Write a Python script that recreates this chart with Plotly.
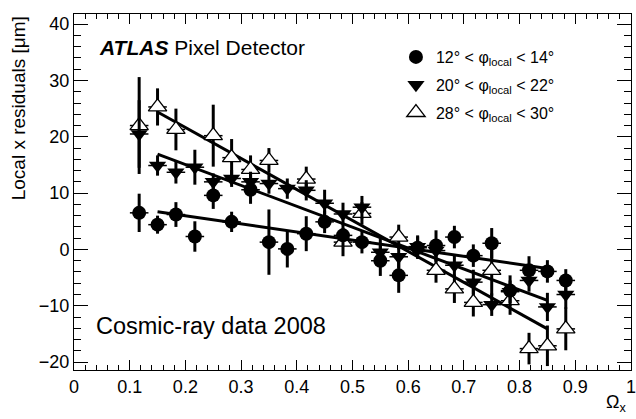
import plotly.graph_objects as go

# ---------------- data ----------------
# 12 deg < phi_local < 14 deg (filled circles)
omega_c = [0.117, 0.150, 0.183, 0.217, 0.250, 0.283, 0.317, 0.350, 0.383, 0.417, 0.450, 0.483,
           0.517, 0.550, 0.583, 0.617, 0.650, 0.683, 0.717, 0.750, 0.783, 0.817, 0.850, 0.883]
res_c = [6.5, 4.4, 6.2, 2.3, 9.6, 4.9, 10.6, 1.3, 0.1, 2.8, 4.9, 2.5,
         1.3, -2.0, -4.6, 0.3, 0.7, 2.2, -1.1, 1.1, -7.3, -3.7, -3.9, -5.5]
err_c = [3.4, 1.6, 2.2, 2.7, 2.4, 1.8, 2.5, 5.8, 3.3, 3.1, 2.0, 2.0,
         2.0, 2.7, 3.1, 2.0, 2.7, 2.0, 2.0, 2.7, 2.7, 2.5, 2.0, 2.0]

# 20 deg < phi_local < 22 deg (filled down triangles)
omega_d = [0.117, 0.150, 0.183, 0.217, 0.250, 0.283, 0.317, 0.350, 0.383, 0.417, 0.450, 0.483,
           0.517, 0.550, 0.583, 0.617, 0.650, 0.683, 0.717, 0.750, 0.783, 0.817, 0.850, 0.883]
res_d = [20.5, 14.9, 13.7, 14.6, 12.0, 12.6, 12.0, 11.7, 10.8, 10.5, 8.2, 6.3,
         7.5, -0.5, -1.3, 0.5, -0.2, -2.8, -5.8, -9.8, -7.5, -5.5, -10.2, -8.0]
err_d = [6.0, 1.8, 2.0, 3.1, 1.5, 1.5, 1.8, 1.8, 1.8, 1.8, 2.4, 2.0,
         2.0, 2.5, 2.0, 2.0, 2.0, 2.0, 2.2, 2.0, 2.0, 2.0, 2.5, 2.5]

# 28 deg < phi_local < 30 deg (open triangles)
omega_t = [0.117, 0.150, 0.183, 0.250, 0.283, 0.317, 0.350, 0.417, 0.483, 0.517,
           0.583, 0.650, 0.683, 0.717, 0.750, 0.783, 0.817, 0.850, 0.883]
res_t = [22.0, 25.3, 21.3, 20.2, 16.3, 14.2, 15.8, 12.5, 1.3, 6.4,
         2.2, -3.7, -7.0, -9.4, -3.7, -9.1, -17.6, -17.1, -14.1]
err_t = [8.6, 3.3, 3.7, 5.5, 3.3, 2.5, 2.2, 2.2, 2.5, 2.0,
         2.2, 2.2, 2.5, 2.5, 4.5, 2.5, 2.8, 3.6, 3.8]

bin_half_width = 1.0 / 60.0

# linear fits: (intercept, slope), drawn over the fit range
fit_range = [0.15, 0.85]
fit_c = (8.86, -14.4)
fit_d = (22.5, -37.1)
fit_t = (32.65, -55.0)

x_tick_vals = [0, 0.1, 0.2, 0.3, 0.4, 0.5, 0.6, 0.7, 0.8, 0.9, 1.0]
x_tick_text = ["0", "0.1", "0.2", "0.3", "0.4", "0.5", "0.6", "0.7", "0.8", "0.9", "1"]

legend_labels = ["12° < φ<sub>local</sub> < 14°",
                 "20° < φ<sub>local</sub> < 22°",
                 "28° < φ<sub>local</sub> < 30°"]

FONT = "Liberation Sans, Arial, Helvetica, sans-serif"

fig = go.Figure()

# fit lines
for (a, b) in (fit_c, fit_d, fit_t):
    fig.add_trace(go.Scatter(
        x=fit_range, y=[a + b * fit_range[0], a + b * fit_range[1]],
        mode="lines", line=dict(color="black", width=3),
        showlegend=False, hoverinfo="skip"))


def errs(n):
    return [bin_half_width] * n


# open triangles (drawn first)
fig.add_trace(go.Scatter(
    x=omega_t, y=res_t, mode="markers", name=legend_labels[2], legendgroup="t", legendrank=3,
    marker=dict(symbol="triangle-up", size=16, color="white",
                line=dict(color="black", width=1.3)),
    error_y=dict(type="data", array=err_t, color="black", thickness=3, width=0),
    error_x=dict(type="data", array=errs(len(omega_t)), color="black", thickness=1.5, width=0)))

# down triangles
fig.add_trace(go.Scatter(
    x=omega_d, y=res_d, mode="markers", name=legend_labels[1], legendgroup="d", legendrank=2,
    marker=dict(symbol="triangle-down", size=15, color="black"),
    error_y=dict(type="data", array=err_d, color="black", thickness=3, width=0),
    error_x=dict(type="data", array=errs(len(omega_d)), color="black", thickness=1.5, width=0)))

# circles
fig.add_trace(go.Scatter(
    x=omega_c, y=res_c, mode="markers", name=legend_labels[0], legendgroup="c", legendrank=1,
    marker=dict(symbol="circle", size=14, color="black"),
    error_y=dict(type="data", array=err_c, color="black", thickness=3, width=0),
    error_x=dict(type="data", array=errs(len(omega_c)), color="black", thickness=1.5, width=0)))

axis_common = dict(
    showgrid=False, zeroline=False, showline=True, linecolor="black", linewidth=1,
    mirror="ticks", ticks="inside", tickcolor="black", tickwidth=1,
    tickfont=dict(family=FONT, size=18, color="black"),
    ticklabeloverflow="allow", automargin=False,
)

fig.update_xaxes(range=[0, 1.0001], tickmode="array", tickvals=x_tick_vals, ticktext=x_tick_text,
                 ticklen=10,
                 minor=dict(dtick=0.02, tick0=0, ticklen=5, ticks="inside", tickcolor="black", showgrid=False),
                 **axis_common)
fig.update_yaxes(range=[-21.4, 41.8], dtick=10, tick0=0, ticklen=14,
                 minor=dict(dtick=2, ticklen=7, ticks="inside", tickcolor="black", showgrid=False),
                 **axis_common)

annotations = [
    dict(text="<b><i>ATLAS</i></b> Pixel Detector", x=0.042, y=0.905, xref="paper", yref="paper",
         xanchor="left", yanchor="middle", showarrow=False,
         font=dict(family=FONT, size=21, color="black")),
    dict(text="Cosmic-ray data 2008", x=0.036, y=0.125, xref="paper", yref="paper",
         xanchor="left", yanchor="middle", showarrow=False,
         font=dict(family=FONT, size=23.5, color="black")),
    dict(text="Local x residuals [μm]", x=-0.1, y=1.0, xref="paper", yref="paper",
         xanchor="center", yanchor="top", textangle=-90, showarrow=False,
         font=dict(family=FONT, size=19, color="black")),
    dict(text="Ω<sub>x</sub>", x=0.995, y=-0.093, xref="paper", yref="paper",
         xanchor="right", yanchor="middle", showarrow=False,
         font=dict(family=FONT, size=18, color="black")),
]

fig.update_layout(
    width=636, height=419,
    margin=dict(l=74, r=5, t=14, b=49),
    paper_bgcolor="white", plot_bgcolor="white",
    annotations=annotations,
    showlegend=True,
    legend=dict(x=0.578, y=0.927, xanchor="left", yanchor="top",
                traceorder="grouped", tracegroupgap=4, bgcolor="rgba(0,0,0,0)",
                font=dict(family=FONT, size=16, color="black")),
)

fig.write_html("out.html",
               config={"displayModeBar": False},
               post_script="document.body.style.margin='0';document.body.style.padding='0';")
